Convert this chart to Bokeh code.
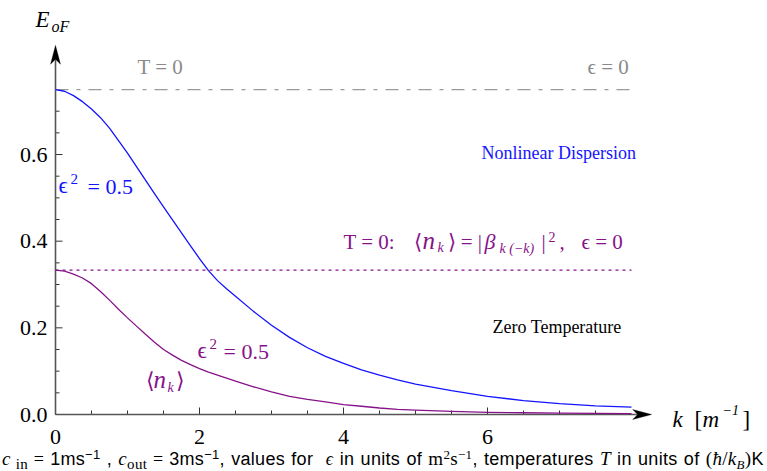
from bokeh.plotting import figure
from bokeh.models import Label, PolyAnnotation, Div, Range1d
from bokeh.layouts import column
from bokeh.embed import file_html
from bokeh.resources import INLINE

# ---------------- data ----------------
k = [0.0, 0.125, 0.25, 0.375, 0.5, 0.625, 0.75, 0.875, 1.0, 1.125, 1.25, 1.375,
     1.5, 1.625, 1.75, 1.875, 2.0, 2.125, 2.25, 2.375, 2.5, 2.75, 3.0, 3.25,
     3.5, 3.75, 4.0, 4.25, 4.5, 4.75, 5.0, 5.5, 6.0, 6.5, 7.0, 7.5, 8.0]
e_nonlinear = [0.750, 0.746, 0.736, 0.722, 0.705, 0.685, 0.661, 0.632, 0.603,
               0.572, 0.541, 0.510, 0.479, 0.449, 0.419, 0.389, 0.360, 0.332,
               0.309, 0.290, 0.273, 0.238, 0.206, 0.178, 0.154, 0.134, 0.118,
               0.103, 0.091, 0.080, 0.070, 0.055, 0.042, 0.032, 0.025, 0.020,
               0.017]
n_k = [0.333, 0.331, 0.324, 0.315, 0.302, 0.284, 0.264, 0.243, 0.223, 0.204,
       0.185, 0.167, 0.150, 0.137, 0.125, 0.115, 0.106, 0.098, 0.091, 0.084,
       0.077, 0.064, 0.052, 0.042, 0.035, 0.029, 0.023, 0.019, 0.015, 0.012,
       0.010, 0.007, 0.005, 0.004, 0.003, 0.0025, 0.002]
level_T0_eps0 = 0.75        # T = 0, epsilon = 0
level_T0_nk = 0.333         # T = 0: <n_k> = |beta|^2, epsilon = 0
x_ticks = [0, 2, 4, 6]
x_tick_labels = ["0", "2", "4", "6"]
x_minor = [0.5, 1, 1.5, 2.5, 3, 3.5, 4.5, 5, 5.5, 6.5, 7, 7.5]
y_ticks = [0.0, 0.2, 0.4, 0.6]
y_tick_labels = ["0.0", "0.2", "0.4", "0.6"]
y_minor = [0.05, 0.1, 0.15, 0.25, 0.3, 0.35, 0.45, 0.5, 0.55, 0.65, 0.7, 0.75]
x_arrow_end = 8.28
y_arrow_end = 0.852

# ---------------- layout constants ----------------
X0, Y0 = 55, 414          # pixel position of the origin
SX, SY = 72.0, 433.3      # pixels per unit
W, H = 767, 450
BL = 0.33                 # baseline correction (fraction of font size)

BLUE = "#1414ff"
PURPLE = "#86128a"
GRAY = "#8a8a8a"
AXIS = "#555555"
SERIF = "Liberation Serif"

p = figure(width=W, height=H, output_backend="svg", toolbar_location=None,
           x_range=Range1d(-X0 / SX, (W - X0) / SX),
           y_range=Range1d(-(H - Y0) / SY, Y0 / SY),
           x_axis_type=None, y_axis_type=None, min_border=0)
p.grid.visible = False
p.outline_line_color = None
p.background_fill_color = "white"
p.border_fill_color = "white"

# ---- hand-made axes (ticks inside, arrows) ----
p.segment(x0=x_ticks, y0=[0] * len(x_ticks), x1=x_ticks, y1=[7 / SY] * len(x_ticks),
          line_color="#333333", line_width=1)
p.segment(x0=x_minor, y0=[0] * len(x_minor), x1=x_minor, y1=[4 / SY] * len(x_minor),
          line_color="#333333", line_width=1)
p.segment(x0=[0] * len(y_ticks), y0=y_ticks, x1=[7 / SX] * len(y_ticks), y1=y_ticks,
          line_color="#333333", line_width=1)
p.segment(x0=[0] * len(y_minor), y0=y_minor, x1=[4 / SX] * len(y_minor), y1=y_minor,
          line_color="#333333", line_width=1)

TICK_FS = 22
p.text(x=x_ticks, y=[-(29.5 - BL * TICK_FS) / SY] * len(x_ticks), text=x_tick_labels,
       text_align="center", text_baseline="alphabetic", text_font=SERIF,
       text_font_size=f"{TICK_FS}px", text_color="black")
p.text(x=[-8 / SX] * len(y_ticks), y=[y - (7.5 - BL * TICK_FS) / SY for y in y_ticks],
       text=y_tick_labels, text_align="right", text_baseline="alphabetic",
       text_font=SERIF, text_font_size=f"{TICK_FS}px", text_color="black")

# axis lines
p.line([0, x_arrow_end - 14 / SX], [0, 0], line_color=AXIS, line_width=1.6)
p.line([0, 0], [0, y_arrow_end - 14 / SY], line_color=AXIS, line_width=1.6)
hl, hw, hn = 19, 5, 14   # arrow head length, half width, notch (pixels)
p.add_layout(PolyAnnotation(
    xs=[x_arrow_end, x_arrow_end - hl / SX, x_arrow_end - hn / SX, x_arrow_end - hl / SX],
    ys=[0, hw / SY, 0, -hw / SY], fill_color="black", fill_alpha=1,
    line_color="black", line_width=1))
p.add_layout(PolyAnnotation(
    xs=[0, hw / SX, 0, -hw / SX],
    ys=[y_arrow_end, y_arrow_end - hl / SY, y_arrow_end - hn / SY, y_arrow_end - hl / SY],
    fill_color="black", fill_alpha=1, line_color="black", line_width=1))

# reference levels
p.line([k[0], k[-1]], [level_T0_eps0, level_T0_eps0], line_color="#9a9a9a",
       line_width=1.3, line_dash="13 8 4 8")
p.line([k[0], k[-1]], [level_T0_nk, level_T0_nk], line_color=PURPLE,
       line_width=1.2, line_dash="3 4")

# curves
p.line(k, e_nonlinear, line_color=BLUE, line_width=1.3, line_join="round")
p.line(k, n_k, line_color=PURPLE, line_width=1.3, line_join="round")


def lab(text, px, py, size, color="black", style="normal", font=SERIF):
    p.add_layout(Label(x=(px - X0) / SX, y=(Y0 - py + BL * size) / SY, text=text,
                       text_align="left", text_baseline="alphabetic",
                       text_font=font, text_font_size=f"{size}px",
                       text_font_style=style, text_color=color))


# axis titles
lab("E", 35, 27, 23, style="italic")
lab("oF", 51, 31, 16, style="italic")
lab("k", 672, 427, 23, style="italic")
lab("[", 694, 427, 23)
lab("m", 702, 427, 23, style="italic")
lab("\u22121", 722, 414, 14, style="italic")
lab("]", 742, 427, 23)

# gray level annotations
lab("T = 0", 137, 73, 21, GRAY)
lab("\u03f5 = 0", 587, 73, 21, GRAY)

# blue annotations
lab("Nonlinear Dispersion", 481, 158, 18, BLUE)
lab("\u03f5", 58, 193, 23, BLUE)
lab("2", 70, 183, 15, BLUE)
lab("= 0.5", 87, 193, 22, BLUE)

# purple annotations
lab("T = 0:", 343, 248, 21, PURPLE)
lab("\u27e8", 413, 248, 21, PURPLE)
lab("n", 422, 248, 25, PURPLE, "italic")
lab("k", 437, 252, 14, PURPLE, "italic")
lab("\u27e9 = |", 447, 248, 21, PURPLE)
lab("\u03b2", 484, 248, 22, PURPLE, "italic")
lab("k (\u2212k)", 499, 253, 14, PURPLE, "italic")
lab("|", 541, 248, 21, PURPLE)
lab("2", 548, 241, 14, PURPLE)
lab(",", 559, 248, 21, PURPLE)
lab("\u03f5 = 0", 581, 248, 21, PURPLE)

lab("\u03f5", 197, 358, 23, PURPLE)
lab("2", 209, 348, 15, PURPLE)
lab("= 0.5", 223, 358, 22, PURPLE)

lab("\u27e8", 145, 387, 22, PURPLE)
lab("n", 153, 387, 25, PURPLE, "italic")
lab("k", 167, 392, 14, PURPLE, "italic")
lab("\u27e9", 175, 387, 22, PURPLE)

lab("Zero Temperature", 492, 332, 18, "black")

# caption
S = "font-family:'Liberation Serif';"
SUB = "position:relative;top:4px;font-size:13px;"
SUP = "position:relative;top:-6px;font-size:13px;"
caption = (
    "<div style=\"font-family:'Liberation Sans';font-size:18px;white-space:nowrap;"
    "letter-spacing:0.3px;word-spacing:1px;"
    "padding-left:2px;padding-top:0px;line-height:18px;color:black\">"
    f"<i style=\"{S}font-size:19px\">c</i><span style=\"{SUB}{S}font-size:15px\">&nbsp;in</span>"
    f"<span style=\"{S}\">&nbsp;=&nbsp;</span>1ms<span style=\"{SUP}\">\u22121</span>&nbsp;, "
    f"<i style=\"{S}font-size:19px\">c</i><span style=\"{SUB}{S}font-size:15px\">out</span>"
    f"<span style=\"{S}\">&nbsp;=&nbsp;</span>3ms<span style=\"{SUP}\">\u22121</span>, values for &nbsp;"
    f"<i style=\"{S}\">\u03f5</i> in units of "
    f"<span style=\"{S}font-size:19px\">m<span style=\"{SUP}\">2</span>s<span style=\"{SUP}\">\u22121</span></span>, "
    f"temperatures <i style=\"{S}font-size:19px\">T</i> in units of "
    f"<span style=\"{S}font-size:19px\">(<i>\u0127</i>/<i>k</i><span style=\"{SUB}\"><i>B</i></span>)</span>K"
    "</div>"
)
div = Div(text=caption, width=W, height=471 - H, margin=(0, 0, 0, 0))

layout = column(p, div, spacing=0)
open("out.html", "w").write(file_html(layout, INLINE))
